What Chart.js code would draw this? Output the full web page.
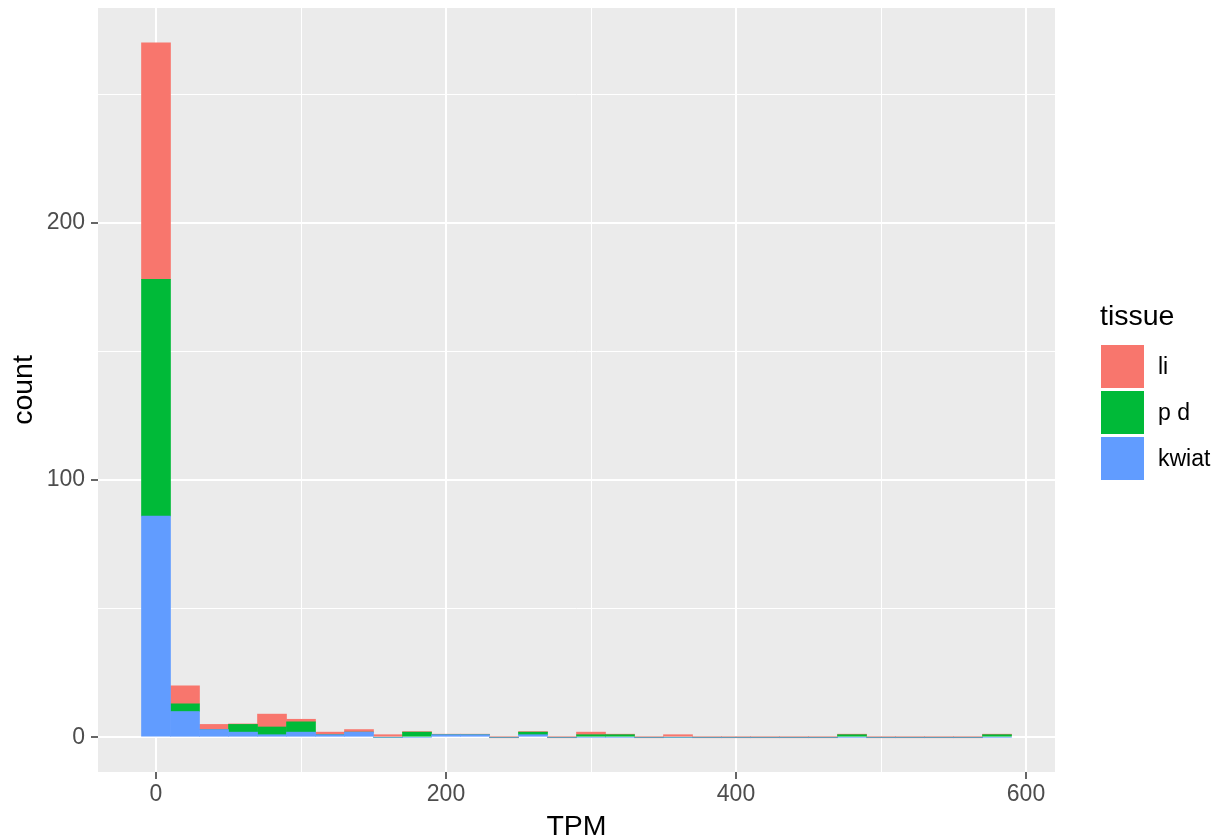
<!DOCTYPE html>
<html>
<head>
<meta charset="utf-8">
<title>TPM histogram</title>
<script src="https://cdn.jsdelivr.net/npm/chart.js@4.4.1/dist/chart.umd.min.js"></script>
<style>
  body { margin: 0; background: #fff; font-family: "Liberation Sans", Arial, Helvetica, sans-serif; }
  #wrap { position: relative; width: 1222px; height: 839px; }
  #legend { position: absolute; left: 1100px; top: 301px; color: #000; }
  #legend .ttl { font-size: 28.5px; line-height: 1; margin-bottom: 15px; }
  #legend .item { display: flex; align-items: center; height: 43px; margin-top: 3px; margin-left: 1px; }
  #legend .key { width: 43px; height: 43px; margin-right: 14px; }
  #legend .lbl { font-size: 23px; line-height: 1; }
</style>
</head>
<body>
<div id="wrap">
  <canvas id="histChart" width="1222" height="839"></canvas>
  <div id="legend"></div>
</div>
<script>
// histograma TPM por tejido, barras apiladas (ancho de bin = 20)

const binMids = [0, 20, 40, 60, 80, 100, 120, 140, 160, 180, 200, 220, 240, 260, 280,
                 300, 320, 340, 360, 380, 400, 420, 440, 460, 480, 500, 520, 540, 560, 580];

// conteos
const kwiat = [86, 10, 3, 2, 1, 2, 1, 2, 0, 0, 1, 1, 0, 1, 0, 0, 0, 0, 0, 0, 0, 0, 0, 0, 0, 0, 0, 0, 0, 0];
const pd    = [92, 3, 0, 3, 3, 4, 0, 0, 0, 2, 0, 0, 0, 1, 0, 1, 1, 0, 0, 0, 0, 0, 0, 0, 1, 0, 0, 0, 0, 1];
const li    = [92, 7, 2, 0, 5, 1, 1, 1, 1, 0, 0, 0, 0, 0, 0, 1, 0, 0, 1, 0, 0, 0, 0, 0, 0, 0, 0, 0, 0, 0];

const xTicks = [0, 100, 200, 300, 400, 500, 600];
const xLabels = [0, 200, 400, 600];
const yTicks = [0, 50, 100, 150, 200, 250];
const yLabels = [0, 100, 200];

const colores = { li: '#F8766D', pd: '#00BA38', kwiat: '#619CFF' };
const FONT = '"Liberation Sans", Arial, Helvetica, sans-serif';

const toPoints = arr => arr.map((v, i) => ({ x: binMids[i], y: v }));

// fondo gris del panel, estilo ggplot
const panelBg = {
  id: 'panelBg',
  beforeDraw(chart) {
    const { ctx, chartArea: a } = chart;
    ctx.save();
    ctx.fillStyle = '#EBEBEB';
    ctx.fillRect(a.left, a.top, a.right - a.left, a.bottom - a.top);
    ctx.restore();
  }
};

function ejeOpts(ticks, labels, min, max) {
  return {
    type: 'linear',
    min, max,
    stacked: true,
    offset: false,
    border: { display: false },
    afterBuildTicks: axis => { axis.ticks = ticks.map(v => ({ value: v })); },
    grid: {
      offset: false,
      color: '#FFFFFF',
      lineWidth: c => (c.tick && labels.includes(c.tick.value)) ? 2 : 1,
      tickColor: c => (c.tick && labels.includes(c.tick.value)) ? '#333333' : 'rgba(0,0,0,0)',
      tickWidth: 1.5,
      tickLength: 7,
      drawTicks: true
    },
    ticks: {
      autoSkip: false,
      maxRotation: 0,
      color: '#4D4D4D',
      font: { family: FONT, size: 23, lineHeight: 1 },
      callback: v => labels.includes(v) ? String(v) : ''
    }
  };
}

const xScale = ejeOpts(xTicks, xLabels, -40, 620);
xScale.ticks.padding = 4;
xScale.title = { display: true, text: 'TPM', color: '#000', font: { family: FONT, size: 28.5, lineHeight: 1 }, padding: { top: 0, bottom: -2 } };
xScale.afterFit = s => { s.height = 67; s.paddingLeft = 0; s.paddingRight = 0; };

const yScale = ejeOpts(yTicks, yLabels, -13.5, 283.5);
yScale.ticks.padding = 6;
yScale.title = { display: true, text: 'count', color: '#000', font: { family: FONT, size: 28.5, lineHeight: 1 }, padding: { top: 10, bottom: 0 } };
// sin relleno extra arriba/abajo: el panel va de y=8 a y=772
yScale.afterFit = s => { s.width = 98; s.paddingTop = 0; s.paddingBottom = 0; };

const chart = new Chart(document.getElementById('histChart').getContext('2d'), {
  type: 'bar',
  data: {
    datasets: [
      { label: 'kwiat', data: toPoints(kwiat), backgroundColor: colores.kwiat },
      { label: 'p d', data: toPoints(pd), backgroundColor: colores.pd },
      { label: 'li', data: toPoints(li), backgroundColor: colores.li, minBarLength: 1 }
    ]
  },
  options: {
    responsive: false,
    animation: false,
    barPercentage: 1,
    categoryPercentage: 1,
    borderWidth: 0,
    layout: { padding: { top: 8, right: 167, bottom: 0, left: 0 } },
    plugins: {
      legend: { display: false },
      tooltip: { enabled: false }
    },
    scales: { x: xScale, y: yScale }
  },
  plugins: [panelBg]
});

// leyenda tipo ggplot (li arriba, kwiat abajo)
const leg = document.getElementById('legend');
let html = '<div class="ttl">tissue</div>';
[['li', colores.li], ['p d', colores.pd], ['kwiat', colores.kwiat]].forEach(([n, c]) => {
  html += `<div class="item"><div class="key" style="background:${c}"></div><div class="lbl">${n}</div></div>`;
});
leg.innerHTML = html;
</script>
</body>
</html>
